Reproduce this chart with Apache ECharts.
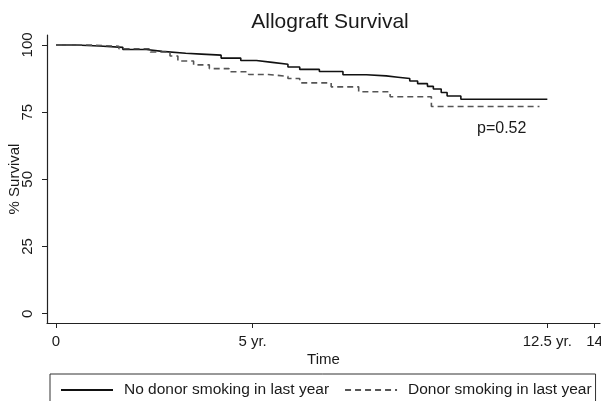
<!DOCTYPE html>
<html>
<head>
<meta charset="utf-8">
<script src="https://cdn.jsdelivr.net/npm/echarts@6/dist/echarts.min.js"></script>
<style>
  html, body { margin: 0; padding: 0; background: #fff; }
  #chart { width: 601px; height: 401px; }
</style>
</head>
<body>
<div id="chart"></div>
<script>
// Kaplan-Meier curves, time in years, survival in %
var noSmokeTime = [0, 0.5, 1.1, 1.7, 2.3, 2.7, 3.3, 3.7, 4.2, 4.7, 5.1, 5.5, 5.9, 6.2, 6.7, 7.3, 7.9, 8.4, 8.7, 9.0, 9.2, 9.45, 9.6, 9.8, 9.95, 10.3, 12.5];
var noSmokeSurv = [100, 99.6, 99.1, 98.3, 97.6, 96.9, 96.6, 96.2, 95.1, 94.2, 93.5, 92.8, 91.8, 90.9, 90.1, 88.9, 88.5, 88.0, 87.5, 86.6, 85.6, 84.6, 83.6, 82.3, 81.0, 79.8, 79.8];
var smokeTime = [0, 0.8, 1.6, 2.4, 2.9, 3.1, 3.5, 3.9, 4.4, 4.9, 5.4, 5.9, 6.2, 7.0, 7.7, 8.5, 9.55, 12.3];
var smokeSurv = [100, 99.5, 98.6, 97.4, 95.9, 94.0, 92.6, 91.2, 90.0, 89.0, 88.3, 87.5, 85.9, 84.4, 82.6, 80.7, 77.1, 77.1];

var xTickValues = [0, 5, 12.5, 13.7];
var xTickLabels = ["0", "5 yr.", "12.5 yr.", "14"];
var yTickValues = [0, 25, 50, 75, 100];

var seriesNames = ["No donor smoking in last year", "Donor smoking in last year"];

function pairs(t, s) {
  return t.map(function (v, i) { return [v, s[i]]; });
}

var font = "Liberation Sans, Arial, sans-serif";
var ink = "#1a1a1a";

var chart = echarts.init(document.getElementById("chart"));
var option = {
  animation: false,
  backgroundColor: "#fff",
  title: {
    text: "Allograft Survival",
    left: 325,
    top: 7,
    textAlign: "center",
    textStyle: { fontFamily: font, fontSize: 21, fontWeight: "normal", color: ink },
  },
  grid: { left: 47, right: 1, top: 35, bottom: 78, outerBoundsMode: "none" },
  legend: {
    left: 50,
    top: 374,
    orient: "horizontal",
    data: seriesNames,
    itemWidth: 52,
    itemHeight: 10,
    itemGap: 15,
    padding: [8, 4, 14, 10],
    borderColor: "#333",
    borderWidth: 1,
    borderRadius: 0,
    itemStyle: { opacity: 0 },
    textStyle: { fontFamily: font, fontSize: 15.5, color: ink, padding: [0, 0, 0, 6] },
  },
  xAxis: {
    type: "value",
    min: -0.23,
    max: 13.84,
    name: "Time",
    nameLocation: "middle",
    nameGap: 29,
    nameMoveOverlap: false,
    nameTextStyle: { fontFamily: font, fontSize: 15, color: ink },
    splitLine: { show: false },
    axisLine: { onZero: false, lineStyle: { color: "#222", width: 1.2 } },
    axisTick: { customValues: xTickValues, length: 5, lineStyle: { color: "#222" } },
    axisLabel: {
      customValues: xTickValues,
      margin: 11,
      fontFamily: font,
      fontSize: 15,
      color: ink,
      formatter: function (v) {
        var i = xTickValues.indexOf(v);
        return i >= 0 ? xTickLabels[i] : "";
      },
    },
  },
  yAxis: {
    type: "value",
    min: -3.45,
    max: 103.7,
    name: "% Survival",
    nameLocation: "middle",
    nameRotate: 90,
    nameGap: 25,
    nameMoveOverlap: false,
    nameTextStyle: { fontFamily: font, fontSize: 15, color: ink },
    splitLine: { show: false },
    axisLine: { show: true, onZero: false, lineStyle: { color: "#222", width: 1.2 } },
    axisTick: { customValues: yTickValues, length: 5, lineStyle: { color: "#222" } },
    axisLabel: {
      customValues: yTickValues,
      rotate: 90,
      margin: 12,
      fontFamily: font,
      fontSize: 15,
      color: ink,
    },
  },
  graphic: [
    {
      type: "text",
      left: 477,
      top: 121,
      style: { text: "p=0.52", font: "16px " + font, fill: ink },
    },
  ],
  series: [
    {
      name: seriesNames[0],
      type: "line",
      step: "end",
      symbol: "none",
      lineStyle: { color: "#111", width: 1.6, type: "solid" },
      itemStyle: { color: "#111" },
      data: pairs(noSmokeTime, noSmokeSurv),
    },
    {
      name: seriesNames[1],
      type: "line",
      step: "end",
      symbol: "none",
      lineStyle: { color: "#555", width: 1.6, type: [6, 4] },
      itemStyle: { color: "#555" },
      data: pairs(smokeTime, smokeSurv),
    },
  ],
};
chart.setOption(option);
</script>
</body>
</html>
